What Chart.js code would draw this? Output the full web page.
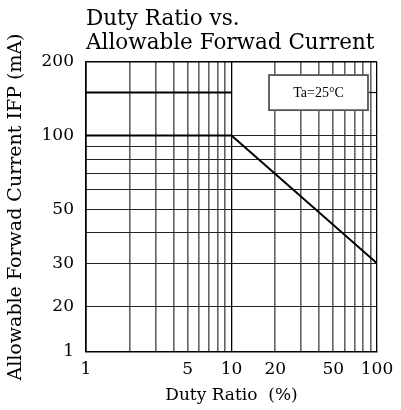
<!DOCTYPE html>
<html>
<head>
<meta charset="utf-8">
<title>Duty Ratio vs. Allowable Forwad Current</title>
<script src="https://cdn.jsdelivr.net/npm/chart.js@4"></script>
<style>
  html, body { margin: 0; padding: 0; background: #fff; }
  #wrap { width: 401px; height: 410px; }
</style>
</head>
<body>
<div id="wrap"><canvas id="chart"></canvas></div>
<script>
// Allowable forward current vs. duty ratio (Ta = 25 °C)
const dutyRatio = [1, 10, 100];          // %
const forwardCurrent = [100, 100, 30];   // mA
const peakDutyRatio = [1, 10];           // %
const peakCurrent = [150, 150];          // mA

// Axis ranges, grid values and tick labels
const xAxisMin = 1;
const xAxisMax = 100;
const xGridValues = [1, 2, 3, 4, 5, 6, 7, 8, 9, 10, 20, 30, 40, 50, 60, 70, 80, 90, 100];
const xTickLabels = ['1', '5', '10', '20', '50', '100'];
const yAxisMin = 13;
const yAxisMax = 200;
const yGridValues = [200, 100, 90, 80, 70, 60, 50, 40, 30, 20];
const yLabelValues = [200, 100, 50, 30, 20, yAxisMin];
const yTickLabels = ['200', '100', '50', '30', '20', '1'];

const SERIF = '"DejaVu Serif", "Liberation Serif", serif';

const toPoints = (xs, ys) => xs.map((x, i) => ({ x, y: ys[i] }));

// Condition box in the upper right corner of the plot
const conditionBox = {
  id: 'conditionBox',
  afterDatasetsDraw(chart) {
    const { ctx, chartArea: a, scales } = chart;
    const w = a.right - a.left, h = a.bottom - a.top;
    const x0 = a.left + w * 0.629, x1 = a.left + w * 0.969;
    const y0 = a.top + h * 0.045, y1 = a.top + h * 0.166;
    ctx.save();
    // short leader from the box to the right edge at 150 mA
    const yl = scales.y.getPixelForValue(peakCurrent[0]);
    ctx.strokeStyle = '#111';
    ctx.lineWidth = 1.2;
    ctx.beginPath();
    ctx.moveTo(x1, yl);
    ctx.lineTo(a.right, yl);
    ctx.stroke();
    ctx.fillStyle = '#fff';
    ctx.fillRect(x0, y0, x1 - x0, y1 - y0);
    ctx.strokeStyle = '#555';
    ctx.lineWidth = 1.8;
    ctx.strokeRect(x0, y0, x1 - x0, y1 - y0);
    ctx.fillStyle = '#000';
    ctx.font = '14px "Liberation Serif", serif';
    ctx.textAlign = 'center';
    ctx.textBaseline = 'middle';
    ctx.fillText('Ta=25°C', (x0 + x1) / 2, (y0 + y1) / 2 + 1);
    ctx.restore();
  }
};

new Chart(document.getElementById('chart'), {
  type: 'line',
  data: {
    datasets: [
      {
        label: 'IFP',
        data: toPoints(dutyRatio, forwardCurrent),
        borderColor: '#000',
        borderWidth: 2,
        pointRadius: 0,
        tension: 0,
        fill: false
      },
      {
        label: 'IFP peak',
        data: toPoints(peakDutyRatio, peakCurrent),
        borderColor: '#000',
        borderWidth: 2,
        pointRadius: 0,
        tension: 0,
        fill: false
      }
    ]
  },
  options: {
    responsive: true,
    maintainAspectRatio: false,
    animation: false,
    events: [],
    layout: { padding: { left: 0, right: 24, top: 0, bottom: 4 } },
    plugins: {
      legend: { display: false },
      tooltip: { enabled: false },
      title: {
        display: true,
        text: ['Duty Ratio vs.', 'Allowable Forwad Current'],
        align: 'start',
        fullSize: false,
        color: '#000',
        font: { family: SERIF, size: 21.5, weight: 'normal', lineHeight: 24 / 21.5 },
        padding: { top: 7, bottom: 7 }
      }
    },
    scales: {
      x: {
        type: 'logarithmic',
        min: xAxisMin,
        max: xAxisMax,
        afterBuildTicks: (s) => { s.ticks = xGridValues.map(v => ({ value: v })); },
        afterFit: (s) => { s.height = 54; },
        ticks: {
          autoSkip: false,
          maxRotation: 0,
          padding: 7,
          color: '#000',
          font: { family: SERIF, size: 17 },
          callback: (v) => xTickLabels.includes(String(v)) ? String(v) : ''
        },
        grid: {
          drawTicks: false,
          color: (c) => (c.tick && (c.tick.value === 10 || c.tick.value === 100)) ? '#000' : 'rgba(0,0,0,0.62)',
          lineWidth: (c) => (c.tick && (c.tick.value === 10 || c.tick.value === 100)) ? 1.3 : 1.6
        },
        border: { display: true, color: '#000', width: 1.6 },
        title: {
          display: true,
          text: 'Duty Ratio  (%)',
          color: '#000',
          font: { family: SERIF, size: 17 },
          padding: { top: 2, bottom: 0 }
        }
      },
      y: {
        type: 'logarithmic',
        min: yAxisMin,
        max: yAxisMax,
        afterBuildTicks: (s) => {
          const vals = Array.from(new Set(yGridValues.concat(yLabelValues)));
          s.ticks = vals.sort((a, b) => a - b).map(v => ({ value: v }));
        },
        afterFit: (s) => { s.width = 86; },
        ticks: {
          autoSkip: false,
          padding: 12,
          color: '#000',
          font: { family: SERIF, size: 17 },
          callback: (v) => {
            const i = yLabelValues.indexOf(v);
            return i >= 0 ? yTickLabels[i] : '';
          }
        },
        grid: {
          drawTicks: false,
          color: (c) => (c.tick && c.tick.value === yAxisMax) ? '#000' : '#222',
          lineWidth: (c) => (c.tick && c.tick.value === yAxisMax) ? 1.5 : 1.1
        },
        border: { display: true, color: '#000', width: 1.6 },
        title: {
          display: true,
          text: 'Allowable Forwad Current IFP (mA)',
          color: '#000',
          font: { family: SERIF, size: 19 },
          padding: { top: 5, bottom: 0 }
        }
      }
    }
  },
  plugins: [conditionBox]
});
</script>
</body>
</html>
